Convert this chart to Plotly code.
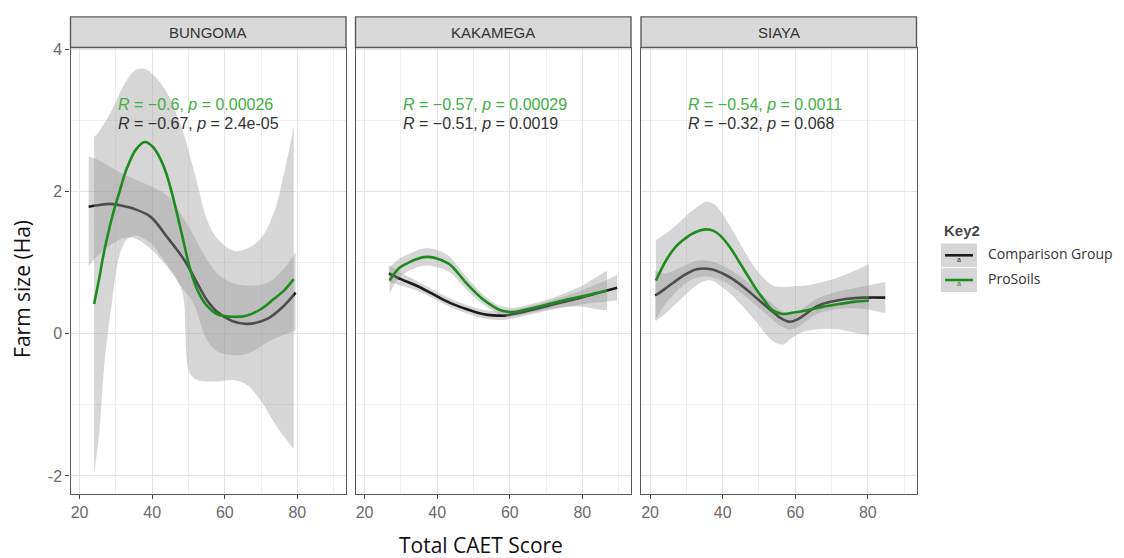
import plotly.graph_objects as go

# ---------------------------------------------------------------------------
# Data
# ---------------------------------------------------------------------------
panels = ["BUNGOMA", "KAKAMEGA", "SIAYA"]
groups = ["Comparison Group", "ProSoils"]

x_ticks = [20, 40, 60, 80]
x_minor = [30, 50, 70, 90]
y_ticks = [-2, 0, 2, 4]
y_tick_text = ["-2", "0", "2", "4"]
y_minor = [-1, 1, 3]

# BUNGOMA - loess fit and confidence ribbon
bun_cmp_x = [22.5, 25, 28.5, 32, 35, 39.5, 44, 48.7, 51.5, 53.3, 55, 57.9, 62, 66.2, 71.7, 76, 79.5]
bun_cmp_y = [1.79, 1.81, 1.83, 1.80, 1.76, 1.65, 1.37, 1.05, 0.80, 0.63, 0.48, 0.31, 0.18, 0.14, 0.21, 0.38, 0.58]
bun_cmp_lo = [0.95, 1.10, 1.25, 1.35, 1.35, 1.20, 0.95, 0.62, 0.42, 0.15, -0.08, -0.25, -0.30, -0.28, -0.12, -0.02, 0.05]
bun_cmp_hi = [2.50, 2.45, 2.35, 2.25, 2.18, 2.08, 1.95, 1.62, 1.38, 1.20, 1.05, 0.85, 0.72, 0.68, 0.72, 0.90, 1.15]

bun_pro_x = [24, 25.4, 26.7, 28.9, 31, 33.1, 35.6, 38, 40.2, 42.3, 44, 45.5, 47, 48.5, 50, 51.5, 53, 55, 57.8, 62.4, 66.2, 70, 73.5, 76.5, 79]
bun_pro_y = [0.42, 0.78, 1.14, 1.63, 2.00, 2.34, 2.60, 2.70, 2.63, 2.46, 2.24, 1.97, 1.66, 1.33, 1.00, 0.74, 0.56, 0.40, 0.28, 0.24, 0.26, 0.35, 0.49, 0.62, 0.77]
bun_pro_lo = [-1.97, -1.40, -0.50, 0.44, 1.10, 1.33, 1.38, 1.33, 1.25, 1.10, 0.98, 0.88, 0.74, 0.55, -0.50, -0.62, -0.66, -0.67, -0.67, -0.65, -0.72, -0.95, -1.24, -1.46, -1.62]
bun_pro_hi = [2.77, 2.85, 2.95, 3.15, 3.38, 3.58, 3.72, 3.73, 3.65, 3.53, 3.40, 3.25, 3.05, 2.85, 2.58, 2.30, 2.00, 1.62, 1.35, 1.17, 1.20, 1.35, 1.70, 2.30, 2.92]

# KAKAMEGA
kak_cmp_x = [26.7, 30, 34.2, 38.5, 43.4, 48, 52.5, 55.5, 58.9, 63, 67.2, 72.5, 78.2, 84, 89.6]
kak_cmp_y = [0.85, 0.77, 0.68, 0.57, 0.44, 0.35, 0.28, 0.26, 0.26, 0.30, 0.35, 0.42, 0.49, 0.57, 0.65]
kak_cmp_lo = [0.73, 0.68, 0.61, 0.51, 0.38, 0.29, 0.22, 0.20, 0.20, 0.24, 0.29, 0.35, 0.40, 0.44, 0.47]
kak_cmp_hi = [0.97, 0.86, 0.75, 0.63, 0.50, 0.41, 0.34, 0.32, 0.32, 0.36, 0.41, 0.49, 0.58, 0.70, 0.83]

kak_pro_x = [26.9, 29.6, 32, 34.2, 36.3, 38.3, 40.5, 43.4, 45.5, 47.9, 50.2, 52.5, 55, 57.1, 59.5, 61.7, 66, 70.8, 75.5, 80, 83.5, 86.8]
kak_pro_y = [0.75, 0.93, 1.00, 1.05, 1.08, 1.08, 1.05, 0.98, 0.87, 0.72, 0.60, 0.49, 0.40, 0.34, 0.31, 0.31, 0.36, 0.42, 0.48, 0.53, 0.57, 0.61]
kak_pro_lo = [0.57, 0.80, 0.88, 0.93, 0.96, 0.96, 0.93, 0.87, 0.77, 0.63, 0.52, 0.42, 0.34, 0.28, 0.25, 0.25, 0.30, 0.35, 0.38, 0.38, 0.35, 0.33]
kak_pro_hi = [0.93, 1.06, 1.12, 1.17, 1.20, 1.20, 1.17, 1.09, 0.97, 0.81, 0.68, 0.56, 0.46, 0.40, 0.37, 0.37, 0.42, 0.49, 0.58, 0.68, 0.79, 0.89]

# SIAYA
sia_cmp_x = [21.4, 24, 26.4, 29.5, 32.8, 36.9, 40, 42.8, 46, 49.2, 51.5, 53.8, 56, 58.4, 60.5, 62.9, 65, 67.5, 70.5, 73.9, 79, 84.8]
sia_cmp_y = [0.54, 0.63, 0.72, 0.83, 0.91, 0.91, 0.85, 0.77, 0.65, 0.51, 0.41, 0.31, 0.22, 0.17, 0.20, 0.28, 0.36, 0.42, 0.46, 0.49, 0.51, 0.51]
sia_cmp_lo = [0.19, 0.41, 0.55, 0.70, 0.79, 0.80, 0.74, 0.66, 0.54, 0.40, 0.30, 0.20, 0.11, 0.06, 0.09, 0.17, 0.25, 0.31, 0.34, 0.36, 0.35, 0.29]
sia_cmp_hi = [0.89, 0.85, 0.89, 0.96, 1.03, 1.02, 0.96, 0.88, 0.76, 0.62, 0.52, 0.42, 0.33, 0.28, 0.31, 0.39, 0.47, 0.53, 0.58, 0.62, 0.67, 0.73]

sia_pro_x = [21.6, 24.6, 27, 29.1, 32, 35.5, 37.5, 39.2, 42, 44.7, 47, 49.2, 51.5, 53.8, 56.5, 59.5, 62.9, 67.5, 72.1, 76, 80.3]
sia_pro_y = [0.75, 1.05, 1.22, 1.32, 1.42, 1.47, 1.45, 1.39, 1.22, 1.00, 0.81, 0.63, 0.47, 0.33, 0.28, 0.30, 0.33, 0.38, 0.42, 0.45, 0.47]
sia_pro_lo = [0.18, 0.30, 0.42, 0.52, 0.65, 0.75, 0.74, 0.68, 0.57, 0.43, 0.30, 0.17, 0.02, -0.10, -0.15, -0.04, 0.04, 0.07, 0.06, 0.02, -0.02]
sia_pro_hi = [1.32, 1.42, 1.52, 1.62, 1.75, 1.86, 1.83, 1.74, 1.52, 1.28, 1.08, 0.91, 0.78, 0.68, 0.66, 0.67, 0.68, 0.73, 0.80, 0.88, 0.98]

# correlation statistics per panel
pro_r = ["\u22120.6", "\u22120.57", "\u22120.54"]
pro_p = ["0.00026", "0.00029", "0.0011"]
cmp_r = ["\u22120.67", "\u22120.51", "\u22120.32"]
cmp_p = ["2.4e-05", "0.0019", "0.068"]

series = {
    "BUNGOMA": {
        "Comparison Group": (bun_cmp_x, bun_cmp_y, bun_cmp_lo, bun_cmp_hi),
        "ProSoils": (bun_pro_x, bun_pro_y, bun_pro_lo, bun_pro_hi),
    },
    "KAKAMEGA": {
        "Comparison Group": (kak_cmp_x, kak_cmp_y, kak_cmp_lo, kak_cmp_hi),
        "ProSoils": (kak_pro_x, kak_pro_y, kak_pro_lo, kak_pro_hi),
    },
    "SIAYA": {
        "Comparison Group": (sia_cmp_x, sia_cmp_y, sia_cmp_lo, sia_cmp_hi),
        "ProSoils": (sia_pro_x, sia_pro_y, sia_pro_lo, sia_pro_hi),
    },
}

# ---------------------------------------------------------------------------
# Styling / layout geometry
# ---------------------------------------------------------------------------
line_colors = {"Comparison Group": "#1c1c1c", "ProSoils": "#1f8b1f"}
text_colors = {"Comparison Group": "#333333", "ProSoils": "#44ad44"}
band_fill = "rgba(153,153,153,0.4)"
frame_color = "#5a5a5a"
sans = "Liberation Sans"

W, H = 1124, 558


def fx(p):
    return p / W


def fy(p):
    return 1 - p / H


panel_left = [70.5, 355.5, 641.0]
panel_w = 275.5
plot_top, plot_bottom, strip_top = 42, 493, 11
x_range = [17.5, 93.4]
y_range = [-2.25, 4.03]

fig = go.Figure()

for i, name in enumerate(panels):
    sfx = "" if i == 0 else str(i + 1)
    for g in groups:
        xs, ys, lo, hi = series[name][g]
        fig.add_trace(go.Scatter(
            x=xs, y=lo, xaxis="x" + sfx, yaxis="y" + sfx, mode="lines",
            line=dict(width=0, shape="spline"), hoverinfo="skip", showlegend=False))
        fig.add_trace(go.Scatter(
            x=xs, y=hi, xaxis="x" + sfx, yaxis="y" + sfx, mode="lines",
            line=dict(width=0, shape="spline"), fill="tonexty", fillcolor=band_fill,
            hoverinfo="skip", showlegend=False))
        fig.add_trace(go.Scatter(
            x=xs, y=ys, xaxis="x" + sfx, yaxis="y" + sfx, mode="lines", name=g,
            line=dict(color=line_colors[g], width=2.6, shape="spline"), showlegend=False))

tick_font = dict(family=sans, size=16, color="#6b6b6b")
axes = {}
for i in range(3):
    sfx = "" if i == 0 else str(i + 1)
    axes["xaxis" + sfx] = dict(
        domain=[fx(panel_left[i]), fx(panel_left[i] + panel_w)], range=x_range,
        anchor="y" + sfx, tickmode="array", tickvals=x_ticks, ticks="outside",
        ticklen=4, tickwidth=1.2, tickcolor="#444", tickfont=tick_font,
        showgrid=True, gridcolor="#e4e4e4", gridwidth=1.1, zeroline=False,
        showline=True, mirror=True, linecolor=frame_color, linewidth=1.4,
        minor=dict(tickvals=x_minor, showgrid=True, gridcolor="#efefef", gridwidth=0.7),
    )
    axes["yaxis" + sfx] = dict(
        domain=[fy(plot_bottom), fy(plot_top)], range=y_range, anchor="x" + sfx,
        tickmode="array", tickvals=y_ticks, ticktext=y_tick_text,
        showticklabels=(i == 0), ticks="outside" if i == 0 else "",
        ticklen=4, tickwidth=1.2, tickcolor="#444", tickfont=tick_font,
        showgrid=True, gridcolor="#e4e4e4", gridwidth=1.1, zeroline=False,
        showline=True, mirror=True, linecolor=frame_color, linewidth=1.4,
        minor=dict(tickvals=y_minor, showgrid=True, gridcolor="#efefef", gridwidth=0.7),
    )

shapes = []
annotations = []
for i, name in enumerate(panels):
    sfx = "" if i == 0 else str(i + 1)
    # facet strip
    shapes.append(dict(type="rect", xref="paper", yref="paper",
                       x0=fx(panel_left[i]), x1=fx(panel_left[i] + panel_w),
                       y0=fy(plot_top), y1=fy(strip_top),
                       fillcolor="#d9d9d9", line=dict(color=frame_color, width=1.4)))
    annotations.append(dict(text=name, xref="paper", yref="paper",
                            x=fx(panel_left[i] + panel_w / 2), y=fy((plot_top + strip_top) / 2),
                            showarrow=False, xanchor="center", yanchor="middle",
                            font=dict(family=sans, size=15, color="#333333")))
    # correlation labels
    annotations.append(dict(text=f"<i>R</i> = {pro_r[i]}, <i>p</i> = {pro_p[i]}",
                            xref="x" + sfx, yref="y" + sfx, x=30, y=3.23,
                            showarrow=False, xanchor="left", yanchor="middle",
                            font=dict(family=sans, size=16, color=text_colors["ProSoils"])))
    annotations.append(dict(text=f"<i>R</i> = {cmp_r[i]}, <i>p</i> = {cmp_p[i]}",
                            xref="x" + sfx, yref="y" + sfx, x=30, y=2.96,
                            showarrow=False, xanchor="left", yanchor="middle",
                            font=dict(family=sans, size=16, color=text_colors["Comparison Group"])))

# axis titles
annotations.append(dict(text="Total CAET Score", xref="paper", yref="paper",
                        x=fx(480.5), y=fy(545), showarrow=False,
                        xanchor="center", yanchor="middle",
                        font=dict(family="Open Sans, sans-serif", size=21, color="#111111")))
annotations.append(dict(text="Farm size (Ha)", xref="paper", yref="paper",
                        x=fx(22), y=fy(286), showarrow=False, textangle=-90,
                        xanchor="center", yanchor="middle",
                        font=dict(family="Open Sans, sans-serif", size=21, color="#111111")))

# legend
annotations.append(dict(text="<b>Key2</b>", xref="paper", yref="paper",
                        x=fx(942), y=fy(227), showarrow=False,
                        xanchor="left", yanchor="middle",
                        font=dict(family=sans, size=15, color="#4a4a4a")))
key_rows = [252, 277]
for g, cy in zip(groups, key_rows):
    shapes.append(dict(type="rect", xref="paper", yref="paper",
                       x0=fx(941), x1=fx(977), y0=fy(cy + 12), y1=fy(cy - 12),
                       fillcolor="#d6d6d6", line=dict(width=0)))
    shapes.append(dict(type="line", xref="paper", yref="paper",
                       x0=fx(945), x1=fx(973), y0=fy(cy), y1=fy(cy),
                       line=dict(color=line_colors[g], width=2.6)))
    annotations.append(dict(text="a", xref="paper", yref="paper",
                            x=fx(959), y=fy(cy + 4), showarrow=False,
                            xanchor="center", yanchor="middle",
                            font=dict(family=sans, size=7, color=line_colors[g])))
    annotations.append(dict(text=g, xref="paper", yref="paper",
                            x=fx(986), y=fy(cy - 2), showarrow=False,
                            xanchor="left", yanchor="middle",
                            font=dict(family="Open Sans, sans-serif", size=14, color="#333333")))

fig.update_layout(
    width=W, height=H, margin=dict(l=0, r=0, t=0, b=0),
    paper_bgcolor="white", plot_bgcolor="white",
    shapes=shapes, annotations=annotations, showlegend=False,
    **axes,
)

fig.write_html("out.html")
